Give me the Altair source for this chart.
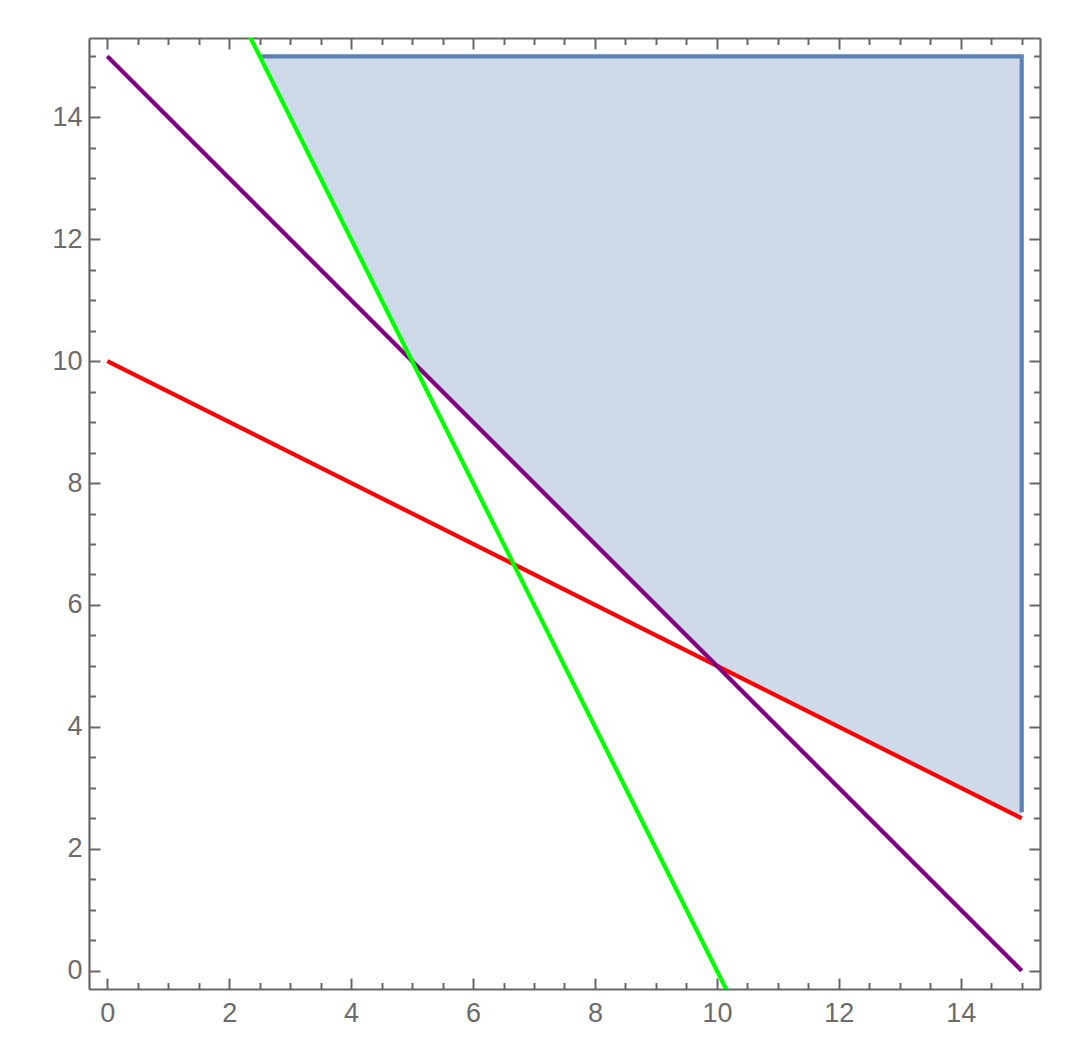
import altair as alt
import pandas as pd

# ---- data ----
x_domain = [-0.3, 15.3]
y_domain = [-0.3, 15.3]
major_ticks = [0, 2, 4, 6, 8, 10, 12, 14]
minor_ticks = [0.5, 1, 1.5, 2.5, 3, 3.5, 4.5, 5, 5.5, 6.5, 7, 7.5, 8.5, 9, 9.5,
               10.5, 11, 11.5, 12.5, 13, 13.5, 14.5, 15]

purple_x = [0, 15]
purple_y = [15, 0]
red_x = [0, 15]
red_y = [10, 2.5]
green_x = [2.3, 10.2]
green_y = [15.4, -0.4]

region_x = [2.5, 5, 10, 15]
region_lower = [15, 10, 5, 2.5]
region_upper = [15, 15, 15, 15]

edge_x = [2.5, 15, 15]
edge_y = [15, 15, 2.6]
edge_order = [0, 1, 2]

# ---- styles ----
FRAME = "#666666"
LABEL = "#6b6b6b"
FONT = "Liberation Sans"
MAJOR = 11
MINOR = 6.5
LW = 4.2

xs = alt.Scale(domain=x_domain, nice=False, zero=False)
ys = alt.Scale(domain=y_domain, nice=False, zero=False)


def axis(orient, values, size, labels, pad=0):
    kw = dict(orient=orient, values=values, tickSize=size, offset=-size,
              labels=labels, domain=False, grid=False, title=None,
              tickColor=FRAME, tickWidth=2, labelFlush=False,
              labelOverlap=False)
    if labels:
        kw.update(labelFontSize=27, labelColor=LABEL, labelFont=FONT,
                  labelPadding=pad, format="d")
    return alt.Axis(**kw)


def frame_axis(orient):
    return alt.Axis(orient=orient, domain=True, domainColor=FRAME, domainWidth=2.2,
                    ticks=False, labels=False, grid=False, title=None, offset=0)


region_df = pd.DataFrame({"x": region_x, "lo": region_lower, "hi": region_upper})
edge_df = pd.DataFrame({"x": edge_x, "y": edge_y, "o": edge_order})
red_df = pd.DataFrame({"x": red_x, "y": red_y})
purple_df = pd.DataFrame({"x": purple_x, "y": purple_y})
green_df = pd.DataFrame({"x": green_x, "y": green_y})

area = alt.Chart(region_df).mark_area(color="#5e81b5", opacity=0.3).encode(
    x=alt.X("x:Q", scale=xs, axis=axis("bottom", major_ticks, MAJOR, True, 11)),
    y=alt.Y("lo:Q", scale=ys, axis=axis("left", major_ticks, MAJOR, True, 7)),
    y2="hi:Q",
)

edge = alt.Chart(edge_df).mark_line(color="#5e81b5", strokeWidth=LW).encode(
    x=alt.X("x:Q", scale=xs, axis=axis("bottom", minor_ticks, MINOR, False)),
    y=alt.Y("y:Q", scale=ys, axis=axis("left", minor_ticks, MINOR, False)),
    order="o:Q",
)

red = alt.Chart(red_df).mark_line(color="#ff0000", strokeWidth=LW).encode(
    x=alt.X("x:Q", scale=xs, axis=axis("top", major_ticks, MAJOR, False)),
    y=alt.Y("y:Q", scale=ys, axis=axis("right", major_ticks, MAJOR, False)),
)

purple = alt.Chart(purple_df).mark_line(color="#800080", strokeWidth=LW).encode(
    x=alt.X("x:Q", scale=xs, axis=axis("top", minor_ticks, MINOR, False)),
    y=alt.Y("y:Q", scale=ys, axis=axis("right", minor_ticks, MINOR, False)),
)

green = alt.Chart(green_df).mark_line(color="#00ff00", strokeWidth=LW, clip=True).encode(
    x=alt.X("x:Q", scale=xs, axis=frame_axis("bottom")),
    y=alt.Y("y:Q", scale=ys, axis=frame_axis("left")),
)

# invisible layer that only carries the top/right frame lines
frame_tr = alt.Chart(purple_df).mark_point(opacity=0).encode(
    x=alt.X("x:Q", scale=xs, axis=frame_axis("top")),
    y=alt.Y("y:Q", scale=ys, axis=frame_axis("right")),
)

chart = (
    alt.layer(area, edge, red, purple, green, frame_tr)
    .resolve_axis(x="independent", y="independent")
    .properties(
        width=951,
        height=951,
        autosize=alt.AutoSizeParams(type="none"),
        padding={"left": 81, "top": 30, "right": 20, "bottom": 50},
    )
    .configure_view(stroke="transparent")
    .configure(background="white")
)

chart.save("out.html", embed_options={"renderer": "svg", "actions": False})
